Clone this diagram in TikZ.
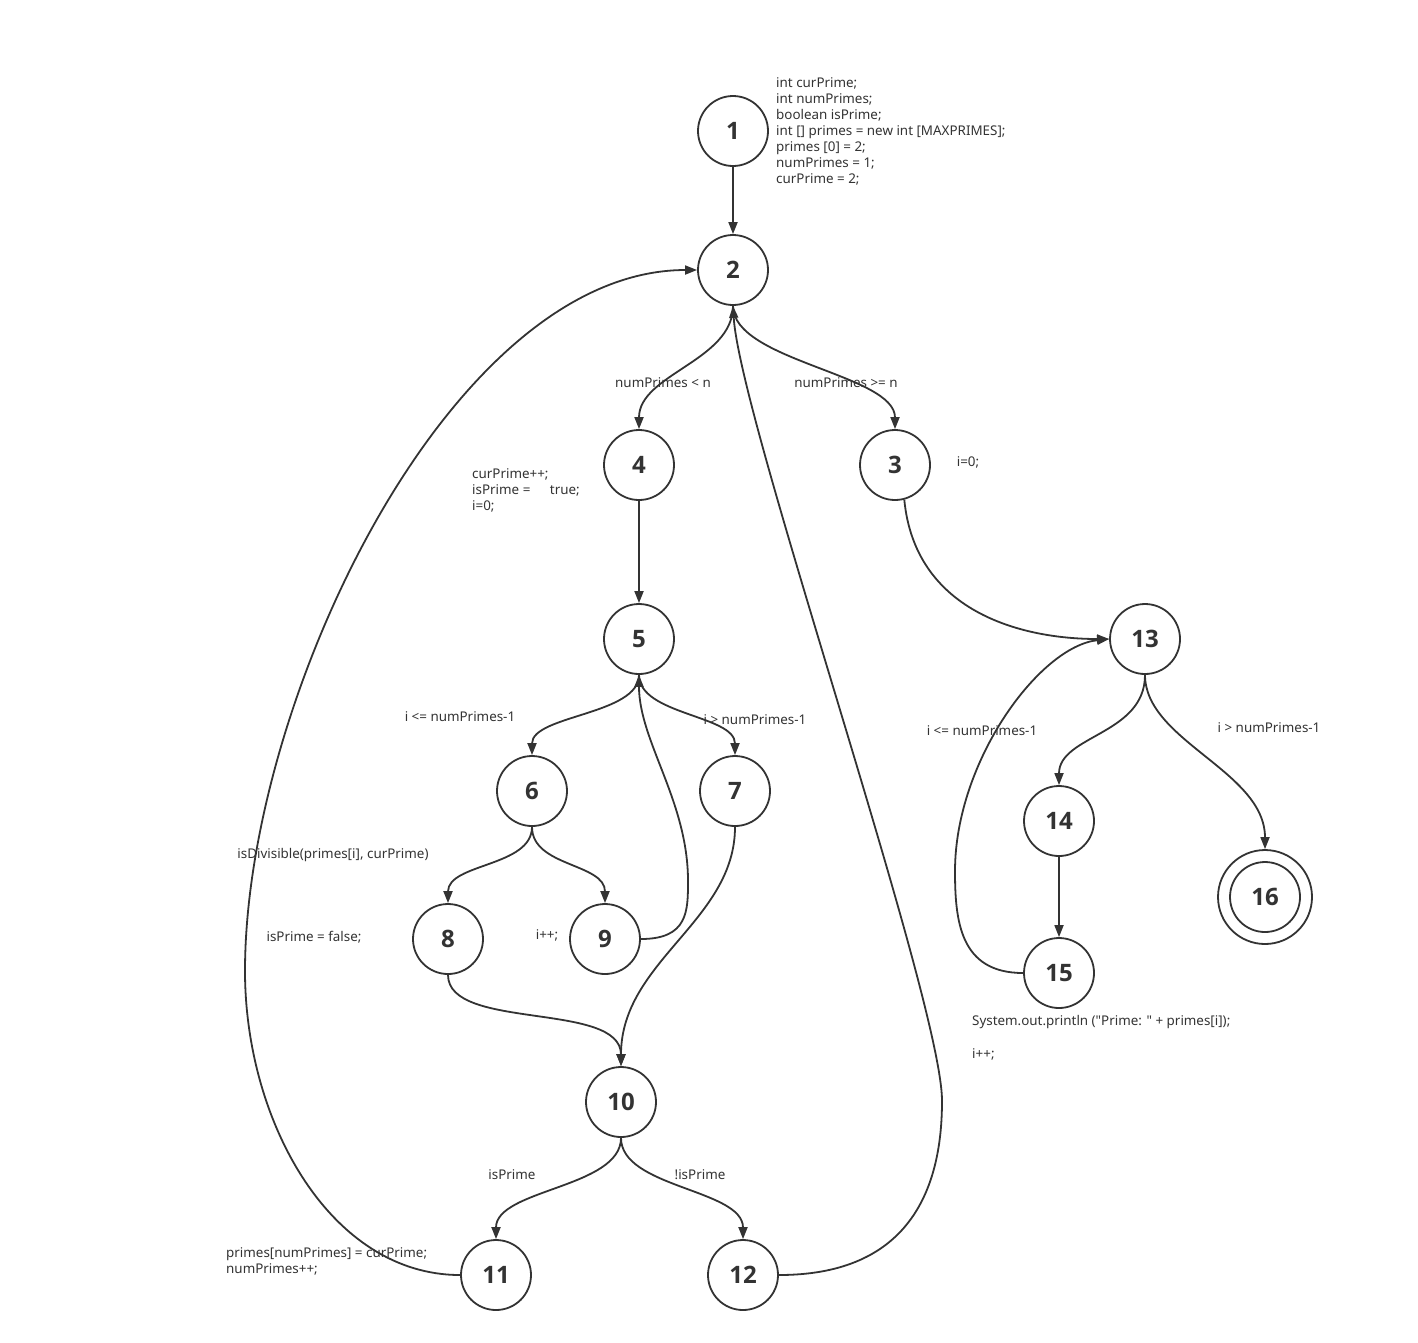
\documentclass[tikz,border=0pt]{standalone}
\usepackage{fontspec}
\setmainfont{Noto Sans}[Ligatures=TeXOff]
\newfontfamily\numfont{Open Sans}
\usetikzlibrary{arrows.meta}
\definecolor{ink}{HTML}{333333}
\begin{document}
\begin{tikzpicture}[x=1pt,y=-1pt,
  st/.style={circle,draw=ink,line width=1.8pt,minimum size=70pt,inner sep=0pt,
    font=\numfont\fontsize{24}{24}\selectfont\bfseries,text=ink},
  lbl/.style={font=\fontsize{13.4}{16}\selectfont,text=ink,inner sep=0pt},
  code/.style={lbl,align=left,anchor=north west},
  arr/.style={draw=ink,line width=1.8pt,-{Triangle[length=12pt,width=9pt]}},
  ln/.style={draw=ink,line width=1.8pt}]
\useasboundingbox (0,0) rectangle (1418,1342);
% states
\node[st] (n1) at (733,131) {1};
\node[st] (n2) at (733,270) {2};
\node[st] (n4) at (639,465) {4};
\node[st] (n3) at (895,465) {3};
\node[st] (n5) at (639,639) {5};
\node[st] (n13) at (1145,639) {13};
\node[st] (n6) at (532,791) {6};
\node[st] (n7) at (735,791) {7};
\node[st] (n14) at (1059,821) {14};
\node[st] (n16) at (1265,897) {16};
\node[circle,draw=ink,line width=1.8pt,minimum size=94pt,inner sep=0pt] (n16o) at (1265,897) {};
\node[st] (n8) at (448,939) {8};
\node[st] (n9) at (605,939) {9};
\node[st] (n15) at (1059,973) {15};
\node[st] (n10) at (621,1102) {10};
\node[st] (n11) at (496,1275) {11};
\node[st] (n12) at (743,1275) {12};
% texts
\node[code] (t1) at (776,77) {int curPrime;\\int numPrimes;\\boolean isPrime;\\int [] primes = new int [MAXPRIMES];\\primes [0] = 2;\\numPrimes = 1;\\curPrime = 2;};
\node[code] (t4) at (472,468) {curPrime++;\\isPrime =\hspace{1.2em} true;\\i=0;};
\node[lbl] (t3) at (968,462) {i=0;};
\node[lbl] (l24) at (663,383) {numPrimes < n};
\node[lbl] (l23) at (846,383) {numPrimes >= n};
\node[lbl] (l56) at (460,717) {i <= numPrimes-1};
\node[lbl] (l57) at (755,720) {i > numPrimes-1};
\node[lbl] (l68) at (333,855) {isDivisible(primes[i], curPrime)};
\node[lbl] (t8) at (314,937) {isPrime = false;};
\node[lbl] (t9) at (547,935) {i++;};
\node[lbl] (l1011) at (512,1175) {isPrime};
\node[lbl] (l1012) at (700,1175) {!isPrime};
\node[code] (t11) at (226,1247) {primes[numPrimes] = curPrime;\\numPrimes++;};
\node[lbl] (l1513) at (982,731) {i <= numPrimes-1};
\node[lbl] (l1316) at (1269,728) {i > numPrimes-1};
\node[lbl,anchor=west] (t15a) at (972,1022) {System.out.println ("Prime: " + primes[i]);};
\node[lbl,anchor=west] (t15b) at (972,1054) {i++;};
% edges
\draw[arr] (n1) -- (n2);
\draw[arr] (n2.south) .. controls +(0,55) and +(0,-55) .. (n4.north);
\draw[arr] (n2.south) .. controls +(0,55) and +(0,-55) .. (n3.north);
\draw[arr] (n4) -- (n5);
\draw[arr] (n3.-75) .. controls (915,611) and (1020,639) .. (n13.west);
\draw[arr] (n5.south) .. controls +(0,40) and +(0,-40) .. (n6.north);
\draw[arr] (n5.south) .. controls +(0,40) and +(0,-40) .. (n7.north);
\draw[arr] (n6.south) .. controls +(0,40) and +(0,-40) .. (n8.north);
\draw[arr] (n6.south) .. controls +(0,40) and +(0,-40) .. (n9.north);
\draw[arr] (n9.east) .. controls (688,939) and (688,911) .. (688,881)
  .. controls (688,801) and (639,741) .. (n5.south);
\draw[arr] (n7.south) .. controls (735,921) and (621,961) .. (n10.north);
\draw[arr] (n8.south) .. controls (448,1031) and (621,1001) .. (n10.north);
\draw[arr] (n10.south) .. controls +(0,50) and +(0,-50) .. (n11.north);
\draw[arr] (n10.south) .. controls +(0,50) and +(0,-50) .. (n12.north);
\draw[arr] (n11.west) .. controls (330,1275) and (245,1121) .. (245,971)
  .. controls (245,701) and (450,270) .. (n2.west);
\draw[arr] (n12.east) .. controls (900,1275) and (942,1201) .. (942,1101)
  .. controls (942,1001) and (740,421) .. (n2.south);
\draw[arr] (n13.south) .. controls +(0,60) and +(0,-50) .. (n14.north);
\draw[arr] (n13.south) .. controls (1145,741) and (1265,771) .. (n16o.north);
\draw[arr] (n14) -- (n15);
\draw[arr] (n15.west) .. controls (960,973) and (955,921) .. (955,871)
  .. controls (955,761) and (1040,646) .. (n13.west);
\end{tikzpicture}
\end{document}
